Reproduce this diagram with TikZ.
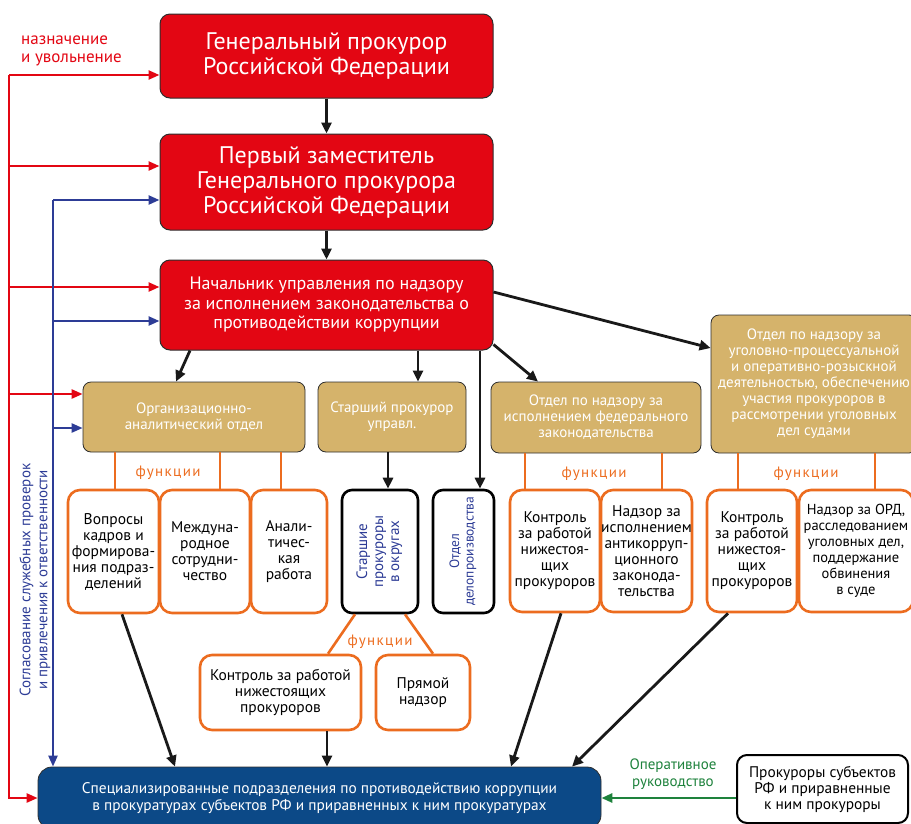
\documentclass[tikz,border=0pt]{standalone}
\usepackage{fontspec}
\setmainfont{PT Sans}
\usetikzlibrary{arrows.meta}

\definecolor{prored}{RGB}{227,6,19}
\definecolor{protan}{RGB}{213,179,107}
\definecolor{proorange}{RGB}{236,108,31}
\definecolor{prodeep}{RGB}{12,73,135}
\definecolor{problue}{RGB}{45,60,150}
\definecolor{progreen}{RGB}{30,130,60}
\definecolor{edge}{RGB}{45,45,45}

\begin{document}
\begin{tikzpicture}[x=1pt,y=-1pt]
\tikzstyle{every node}+=[inner sep=0pt, align=center]
\tikzstyle{redbox}=[draw=edge, line width=1pt, fill=prored, text=white, rounded corners=10pt, minimum width=333pt]
\tikzstyle{tanbox}=[draw=edge, line width=0.8pt, fill=protan, text=white, rounded corners=8pt, font=\fontsize{15}{16}\selectfont]
\tikzstyle{funcbox}=[draw=proorange, line width=2.6pt, fill=white, rounded corners=12pt, font=\fontsize{15.5}{16}\selectfont]
\tikzstyle{blackbox}=[draw=black, line width=2.6pt, fill=white, rounded corners=10pt]
\tikzstyle{funclabel}=[text=proorange, font=\fontsize{15}{16}\selectfont\addfontfeature{LetterSpace=9}]
\tikzstyle{fline}=[draw=proorange, line width=2.6pt]
\tikzstyle{blackarrow}=[draw=black!90, line width=2.8pt, -{Triangle[length=11pt,width=10pt]}]
\tikzstyle{redarrow}=[draw=prored, line width=2.4pt, -{Triangle[length=11pt,width=9pt]}]
\tikzstyle{bluearrow}=[draw=problue, line width=2.4pt, -{Triangle[length=11pt,width=9pt]}]
\tikzstyle{greenarrow}=[draw=progreen, line width=2.8pt, -{Triangle[length=11pt,width=9pt]}]
\useasboundingbox (0,0) rectangle (911,823);
\clip (0,0) rectangle (911,823);

% top chain
\node[redbox, minimum height=84pt, font=\fontsize{24}{25}\selectfont] (gen) at (326.5,56) {Генеральный прокурор\\Российской Федерации};
\node[redbox, minimum height=96pt, font=\fontsize{24}{25}\selectfont] (first) at (326.5,182) {Первый заместитель\\Генерального прокурора\\Российской Федерации};
\node[redbox, minimum height=90pt, font=\fontsize{18}{19.5}\selectfont] (head) at (326.5,305) {Начальник управления по надзору\\за исполнением законодательства о\\противодействии коррупции};

% departments
\node[tanbox, minimum width=222pt, minimum height=70pt] (orgdep) at (194,417) {Организационно-\\аналитический отдел};
\node[tanbox, minimum width=148pt, minimum height=70pt] (senior) at (392,417) {Старший прокурор\\управл.};
\node[tanbox, minimum width=210pt, minimum height=71pt] (feddep) at (596,417.5) {Отдел по надзору за\\исполнением федерального\\законодательства};
\node[tanbox, minimum width=206pt, minimum height=138pt] (crimdep) at (814,384) {Отдел по надзору за\\уголовно-процессуальной\\и оперативно-розыскной\\деятельностью, обеспечению\\участия прокуроров  в\\рассмотрении уголовных\\дел судами};

% functions
\node[funcbox, minimum width=91pt, minimum height=123pt] (f1) at (113.5,551.5) {Вопросы\\кадров и\\формирова-\\ния подраз-\\делений};
\node[funcbox, minimum width=90pt, minimum height=123pt] (f2) at (205,551.5) {Междуна-\\родное\\сотрудни-\\чество};
\node[funcbox, minimum width=76pt, minimum height=123pt] (f3) at (289,551.5) {Анали-\\тичес-\\кая\\работа};
\node[blackbox, minimum width=76pt, minimum height=123pt, text=problue, font=\fontsize{15}{16}\selectfont] (okr) at (380,551.5) {\rotatebox{90}{\begin{tabular}{@{}c@{}}Старшие\\прокуроры\\в округах\end{tabular}}};
\node[blackbox, minimum width=61pt, minimum height=123pt, text=problue, font=\fontsize{13.5}{14.5}\selectfont] (delo) at (463.5,551.5) {\rotatebox{90}{\begin{tabular}{@{}c@{}}Отдел\\делопроизводства\end{tabular}}};
\node[funcbox, minimum width=90pt, minimum height=122pt] (f4) at (555,551) {Контроль\\за работой\\нижестоя-\\щих\\прокуроров};
\node[funcbox, minimum width=91pt, minimum height=122pt] (f5) at (646.5,551) {Надзор за\\исполнением\\антикорруп-\\ционного\\законода-\\тельства};
\node[funcbox, minimum width=90pt, minimum height=122pt] (f6) at (752,551) {Контроль\\за работой\\нижестоя-\\щих\\прокуроров};
\node[funcbox, minimum width=114pt, minimum height=122pt, font=\fontsize{14.5}{16}\selectfont] (f7) at (856,551) {Надзор за ОРД,\\расследованием\\уголовных дел,\\поддержание\\обвинения\\в суде};
\node[funcbox, minimum width=161pt, minimum height=75pt] (ctrl) at (280.5,692.5) {Контроль за работой\\нижестоящих\\прокуроров};
\node[funcbox, minimum width=94pt, minimum height=75pt] (direct) at (423,692.5) {Прямой\\надзор};

% bottom
\node[draw=edge, line width=0.8pt, fill=prodeep, text=white, rounded corners=14pt, minimum width=563pt, minimum height=62pt, font=\fontsize{15.4}{16.5}\selectfont] (spec) at (319.5,798) {Специализированные подразделения по противодействию коррупции\\в прокуратурах субъектов РФ и приравненных к ним прокуратурах};
\node[blackbox, line width=2pt, minimum width=171pt, minimum height=68pt, font=\fontsize{15.4}{16}\selectfont] (subj) at (822.5,789) {Прокуроры субъектов\\РФ и приравненные\\к ним прокуроры};

% labels
\node[funclabel] (fl1) at (168,473) {функции};
\node[funclabel] (fl2) at (380,642) {функции};
\node[funclabel] (fl3) at (594,474) {функции};
\node[funclabel] (fl4) at (806,474) {функции};
\node[anchor=west, align=left, text=prored, font=\fontsize{17}{18}\selectfont] (appoint) at (21,51) {назначение\\и увольнение};
\node[rotate=90, text=problue, font=\fontsize{15}{17}\selectfont] (agree) at (35,580) {Согласование служебных проверок\\и привлечения к ответственности};
\node[text=progreen, font=\fontsize{15}{17}\selectfont] (oper) at (673,774) {Оперативное\\руководство};

% orange links
\draw[fline] ([xshift=1.5pt]f1.north) -- ([xshift=1.5pt]f1.north |- orgdep.south);
\draw[fline] ([xshift=15pt]f2.north) -- ([xshift=15pt]f2.north |- orgdep.south);
\draw[fline] ([xshift=-8pt]f3.north) -- ([xshift=-8pt]f3.north |- orgdep.south);
\draw[fline] ([xshift=-30pt]f4.north) -- ([xshift=-30pt]f4.north |- feddep.south);
\draw[fline] ([xshift=15.5pt]f5.north) -- ([xshift=15.5pt]f5.north |- feddep.south);
\draw[fline] ([xshift=-14pt]f6.north) -- ([xshift=-14pt]f6.north |- crimdep.south);
\draw[fline] ([xshift=19pt]f7.north) -- ([xshift=19pt]f7.north |- crimdep.south);
\draw[fline] ([xshift=-25pt]okr.south) -- ([xshift=47.5pt]ctrl.north);
\draw[fline] ([xshift=25pt]okr.south) -- ([xshift=10pt]direct.north);

% black arrows
\draw[blackarrow] (gen) -- (first);
\draw[blackarrow] (first) -- (head);
\draw[blackarrow] ([xshift=-136.5pt]head.south) -- ([xshift=-18pt]orgdep.north);
\draw[blackarrow] ([xshift=91.5pt]head.south) -- ([xshift=91.5pt]head.south |- senior.north);
\draw[blackarrow] ([xshift=153.5pt]head.south) -- ([xshift=153.5pt]head.south |- delo.north);
\draw[blackarrow] ([yshift=6pt]head.south east) -- ([xshift=-58pt]feddep.north);
\draw[blackarrow] ([yshift=13pt]head.east) -- ([yshift=36pt]crimdep.west);
\draw[blackarrow] ([xshift=-4pt]senior.south) -- ([xshift=-4pt]senior.south |- okr.north);
\draw[blackarrow] ([xshift=8.5pt]f1.south) -- ([xshift=-144.5pt]spec.north);
\draw[blackarrow] ([xshift=46.5pt]ctrl.south) -- ([xshift=46.5pt]ctrl.south |- spec.north);
\draw[blackarrow] ([xshift=6pt]f4.south) -- ([xshift=191.5pt]spec.north);
\draw[blackarrow] ([xshift=-24pt]f6.south) -- ([xshift=252.5pt]spec.north);
\draw[greenarrow] (spec.east -| subj.west) -- (spec.east);

% red and blue feeds
\coordinate (redx) at (9,0);
\coordinate (bluex) at (53,0);
\coordinate (r1) at ([yshift=-19pt]gen.west);
\coordinate (r2) at ([yshift=16pt]first.west);
\coordinate (r3) at ([yshift=18pt]head.west);
\coordinate (r4) at ([yshift=23pt]orgdep.west);
\coordinate (b1) at ([yshift=-18pt]first.west);
\coordinate (b2) at ([yshift=-16pt]head.west);
\coordinate (b3) at ([yshift=-11pt]orgdep.west);
\draw[redarrow] (redx |- r1) -- (redx |- spec.west) -- (spec.west);
\draw[redarrow] (redx |- r1) -- (r1);
\draw[redarrow] (redx |- r2) -- (r2);
\draw[redarrow] (redx |- r3) -- (r3);
\draw[redarrow] (redx |- r4) -- (r4);
\draw[bluearrow] (bluex |- b1) -- (bluex |- spec.north);
\draw[bluearrow] (bluex |- b1) -- (b1);
\draw[bluearrow] (bluex |- b2) -- (b2);
\draw[bluearrow] (bluex |- b3) -- (b3);
\end{tikzpicture}
\end{document}
